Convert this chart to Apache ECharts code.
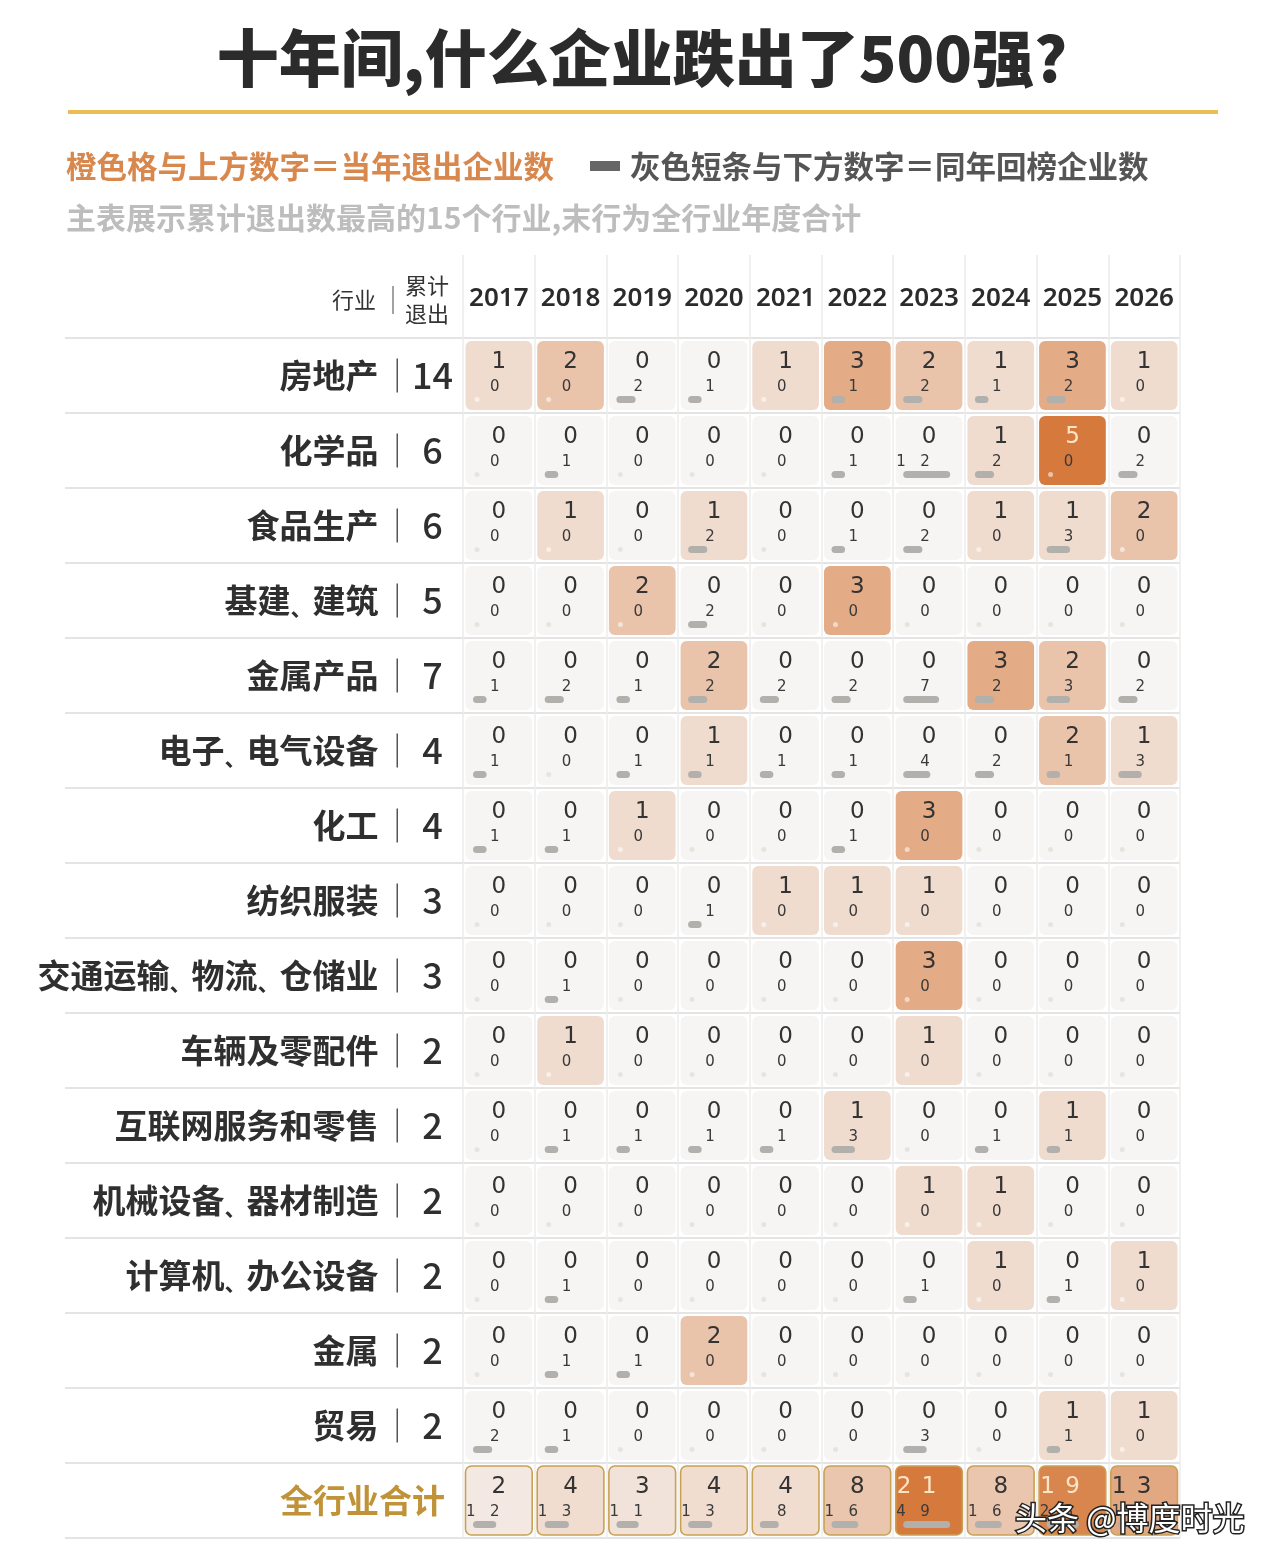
<!DOCTYPE html>
<html><head><meta charset="utf-8">
<script src="https://cdn.jsdelivr.net/npm/echarts@6/dist/echarts.min.js"></script>
<style>html,body{margin:0;padding:0;background:#fff}#c{width:1280px;height:1562px}</style>
</head><body><div id="c"></div>
<script>
const years = ['2017','2018','2019','2020','2021','2022','2023','2024','2025','2026'];
const industries = ['房地产','化学品','食品生产','基建、建筑','金属产品','电子、电气设备','化工','纺织服装','交通运输、物流、仓储业','车辆及零配件','互联网服务和零售','机械设备、器材制造','计算机、办公设备','金属','贸易'];
const cumExits = [14,6,6,5,7,4,4,3,3,2,2,2,2,2,2];
const exits = [
  [1,2,0,0,1,3,2,1,3,1],
  [0,0,0,0,0,0,0,1,5,0],
  [0,1,0,1,0,0,0,1,1,2],
  [0,0,2,0,0,3,0,0,0,0],
  [0,0,0,2,0,0,0,3,2,0],
  [0,0,0,1,0,0,0,0,2,1],
  [0,0,1,0,0,0,3,0,0,0],
  [0,0,0,0,1,1,1,0,0,0],
  [0,0,0,0,0,0,3,0,0,0],
  [0,1,0,0,0,0,1,0,0,0],
  [0,0,0,0,0,1,0,0,1,0],
  [0,0,0,0,0,0,1,1,0,0],
  [0,0,0,0,0,0,0,1,0,1],
  [0,0,0,2,0,0,0,0,0,0],
  [0,0,0,0,0,0,0,0,1,1]
];
const returns = [
  [0,0,2,1,0,1,2,1,2,0],
  [0,1,0,0,0,1,12,2,0,2],
  [0,0,0,2,0,1,2,0,3,0],
  [0,0,0,2,0,0,0,0,0,0],
  [1,2,1,2,2,2,7,2,3,2],
  [1,0,1,1,1,1,4,2,1,3],
  [1,1,0,0,0,1,0,0,0,0],
  [0,0,0,1,0,0,0,0,0,0],
  [0,1,0,0,0,0,0,0,0,0],
  [0,0,0,0,0,0,0,0,0,0],
  [0,1,1,1,1,3,0,1,1,0],
  [0,0,0,0,0,0,0,0,0,0],
  [0,1,0,0,0,0,1,0,1,0],
  [0,1,1,0,0,0,0,0,0,0],
  [2,1,0,0,0,0,3,0,1,0]
];
const totalLabel = '全行业合计';
const totalExits = [2,4,3,4,4,8,21,8,19,13];
const totalReturns = [12,13,11,13,8,16,49,16,23,18];

const rowNames = industries.concat([totalLabel]);
const data = [];
industries.forEach((n, i) => years.forEach((y, j) => data.push([j, i, exits[i][j], returns[i][j], 0])));
years.forEach((y, j) => data.push([j, industries.length, totalExits[j], totalReturns[j], 1]));

const exMax = Math.max(...exits.flat());
const rtMax = Math.max(...returns.flat());
const totExMax = Math.max(...totalExits);
const totRtMax = Math.max(...totalReturns);

function hex(c){ return [parseInt(c.slice(1,3),16),parseInt(c.slice(3,5),16),parseInt(c.slice(5,7),16)]; }
function mix(a, b, t){ const A = hex(a), B = hex(b); return 'rgb(' + A.map((v,k)=>Math.round(v + (B[k]-v)*t)).join(',') + ')'; }

function renderItem(params, api){
  const xi = api.value(0), yi = api.value(1), ex = api.value(2), rt = api.value(3), isTot = api.value(4) === 1;
  const c = api.coord([xi, yi]);
  const s = api.size([1, 1]);
  const w = s[0], h = s[1];
  const L = c[0] - w/2, T = c[1] - h/2;
  const frac = ex / (isTot ? totExMax : exMax);
  const fill = mix('#f6f5f3', '#d6793d', frac);
  const ch = [];
  ch.push({type:'rect', shape:{x:L+2.5, y:T+3, width:w-5, height:h-6, r:6},
    style:{fill: fill, stroke: isTot ? '#c9a155' : null, lineWidth: isTot ? 1.6 : 0}});
  if (rt > 0) {
    const bw = 47 * Math.sqrt(rt / (isTot ? totRtMax : rtMax));
    ch.push({type:'rect', shape:{x:L+10, y:c[1]+20.5, width:bw, height:7, r:3.5}, style:{fill:'#b2b0ac'}});
  } else {
    ch.push({type:'circle', shape:{cx:L+14, cy:c[1]+24, r:2.5}, style:{fill: ex > 0 ? 'rgba(255,255,255,0.55)' : '#e6e4e0'}});
  }
  const td = String(ex).split('');
  td.forEach((d, k) => ch.push({type:'text', style:{text:d, x:c[0] - (td.length-1-k)*25, y:c[1]-13,
    align:'center', verticalAlign:'middle', fontSize:23, fontFamily:'DejaVu Sans', fill: frac > 0.8 ? '#fde6c8' : '#333'}}));
  const bd = String(rt).split('');
  bd.forEach((d, k) => ch.push({type:'text', style:{text:d, x:c[0] - 4 - (bd.length-1-k)*24, y:c[1]+12,
    align:'center', verticalAlign:'middle', fontSize:15, fontFamily:'DejaVu Sans', fill:'#3a3a3a'}}));
  return {type:'group', children: ch};
}

const chart = echarts.init(document.getElementById('c'), null, {renderer:'canvas'});
const CJK = 'Noto Sans CJK SC';
chart.setOption({
  backgroundColor: '#fff',
  animation: false,
  grid: {left: 463, right: 100, top: 338, height: 1200},
  xAxis: {
    type: 'category', data: years, position: 'top',
    axisLine: {show: false},
    axisTick: {show: true, length: 83, interval: 0, lineStyle: {color: '#ececec', width: 1.5}},
    splitLine: {show: true, interval: 0, lineStyle: {color: '#ececec', width: 1.5}},
    axisLabel: {interval: 0, margin: 26, fontSize: 26, fontWeight: 600, color: '#2b2b2b', fontFamily: 'Noto Sans'}
  },
  yAxis: {
    type: 'category', data: rowNames, inverse: true,
    axisLine: {show: false},
    axisTick: {show: true, length: 398, interval: 0, lineStyle: {color: '#e4e4e4', width: 2}},
    splitLine: {show: true, interval: 0, lineStyle: {color: '#e4e4e4', width: 2}},
    axisLabel: {
      interval: 0, margin: 8,
      formatter: (v, i) => i < industries.length
        ? '{name|' + v.split('、').join('}{dun|、}{name|') + '}{gap|}{sep|}{gap2|}{num|' + cumExits[i] + '}'
        : '{tot|' + v + '}',
      rich: {
        name: {fontSize: 33, fontWeight: 'bold', color: '#2f2f2f', fontFamily: CJK},
        dun: {fontSize: 22, fontWeight: 'bold', color: '#2f2f2f', fontFamily: CJK, verticalAlign: 'bottom'},
        gap: {width: 18},
        sep: {width: 1.5, height: 34, backgroundColor: '#555'},
        gap2: {width: 12},
        num: {width: 45, align: 'left', fontSize: 36, fontWeight: 500, color: '#2f2f2f', fontFamily: CJK},
        tot: {fontSize: 33, fontWeight: 'bold', color: '#c19338', fontFamily: CJK, padding: [0, 10, 0, 0]}
      }
    }
  },
  series: [{type: 'custom', renderItem: renderItem, data: data, encode: {x: 0, y: 1}, clip: false}],
  graphic: [
    {type:'text', style:{text:'十年间,什么企业跌出了500强?', x:642, y:58, align:'center', verticalAlign:'middle',
      fontSize:62, fontWeight:900, fill:'#2b2b2b', fontFamily: CJK}},
    {type:'rect', shape:{x:68, y:110, width:1150, height:4}, style:{fill:'#ecbd52'}},
    {type:'text', style:{text:'橙色格与上方数字＝当年退出企业数', x:66, y:166, verticalAlign:'middle',
      fontSize:30.5, fontWeight:'bold', fill:'#d8874d', fontFamily: CJK}},
    {type:'rect', shape:{x:590, y:161, width:30, height:10}, style:{fill:'#666'}},
    {type:'text', style:{text:'灰色短条与下方数字＝同年回榜企业数', x:630, y:166, verticalAlign:'middle',
      fontSize:30.5, fontWeight:'bold', fill:'#555', fontFamily: CJK}},
    {type:'text', style:{text:'主表展示累计退出数最高的15个行业,末行为全行业年度合计', x:66, y:218, verticalAlign:'middle',
      fontSize:30, fontWeight:'bold', fill:'#bdbdbd', fontFamily: CJK}},
    {type:'text', style:{text:'行业', x:354, y:300, align:'center', verticalAlign:'middle', fontSize:22, fill:'#333', fontFamily: CJK}},
    {type:'line', shape:{x1:393, y1:286, x2:393, y2:314}, style:{stroke:'#666', lineWidth:1.2}},
    {type:'text', style:{text:'累计', x:427, y:286, align:'center', verticalAlign:'middle', fontSize:22, fill:'#333', fontFamily: CJK}},
    {type:'text', style:{text:'退出', x:427, y:314, align:'center', verticalAlign:'middle', fontSize:22, fill:'#333', fontFamily: CJK}},
    {type:'text', z:100, style:{text:'头条 @博度时光', x:1015, y:1518, verticalAlign:'middle', fontSize:32,
      fill:'#fff', stroke:'#222', lineWidth:3, fontFamily: CJK}}
  ]
});
</script></body></html>
